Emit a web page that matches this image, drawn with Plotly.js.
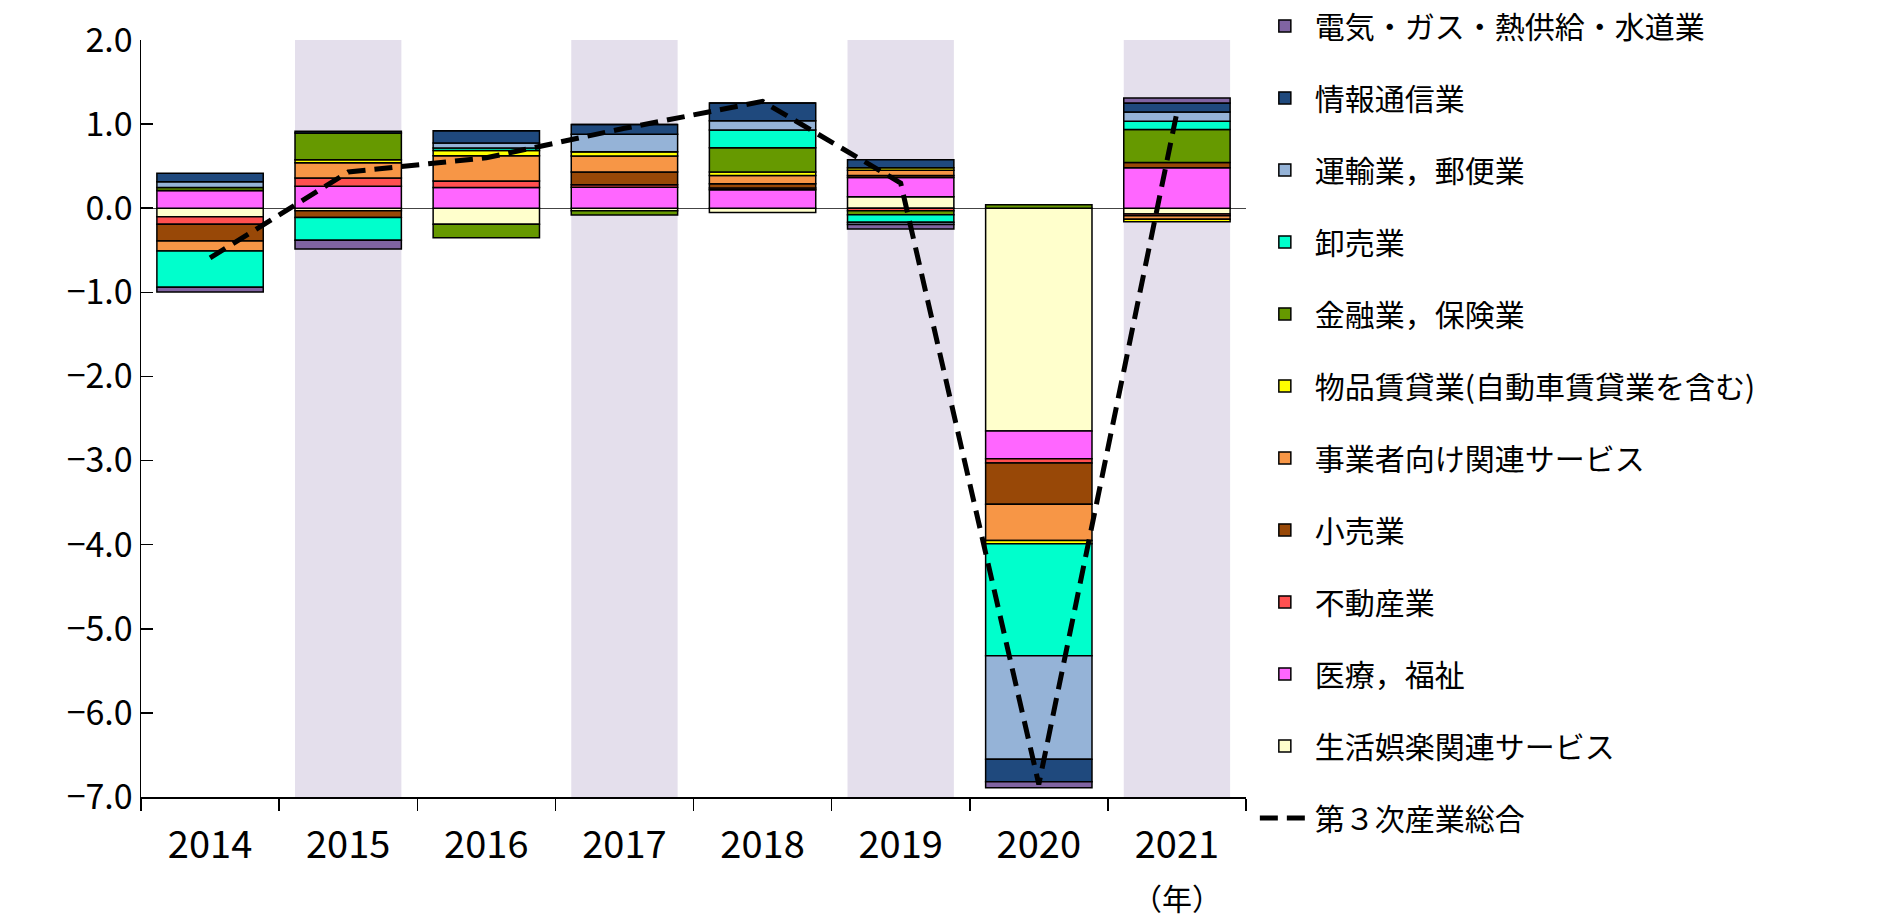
<!DOCTYPE html>
<html>
<head>
<meta charset="utf-8">
<script src="https://cdn.plot.ly/plotly-3.0.1.min.js"></script>
<style>html,body{margin:0;padding:0;background:#fff;}#chart{width:1892px;height:919px;}</style>
</head>
<body>
<div id="chart"></div>
<script>
// categories
const years = ['2014','2015','2016','2017','2018','2019','2020','2021'];
const shadedYears = ['2015','2017','2019','2021'];

// series (contribution, %pt), stacking order from zero outward
const seikatsu = [-0.10, -0.03, -0.19, -0.03, -0.05, 0.135, -2.65, -0.07];   // 生活娯楽関連サービス
const iryou    = [0.21, 0.26, 0.245, 0.25, 0.22, 0.23, -0.33, 0.48];          // 医療，福祉
const fudousan = [-0.09, 0.10, 0.08, 0.03, 0.02, -0.03, -0.05, -0.02];        // 不動産業
const kouri    = [-0.20, -0.08, 0.0, 0.15, 0.05, 0.024, -0.49, 0.065];        // 小売業
const jigyou   = [-0.12, 0.18, 0.30, 0.19, 0.10, 0.063, -0.43, -0.04];        // 事業者向け関連サービス
const buppin   = [0.0, 0.035, 0.06, 0.05, 0.04, 0.03, -0.04, -0.03];          // 物品賃貸業
const kinyu    = [0.035, 0.32, -0.16, -0.05, 0.29, -0.048, 0.04, 0.39];       // 金融業，保険業
const oroshi   = [-0.43, -0.27, 0.03, 0.0, 0.21, -0.09, -1.33, 0.10];         // 卸売業
const unyu     = [0.07, 0.0, 0.06, 0.21, 0.11, -0.025, -1.23, 0.11];          // 運輸業，郵便業
const jouhou   = [0.10, 0.02, 0.145, 0.115, 0.21, 0.095, -0.27, 0.105];       // 情報通信業
const denki    = [-0.055, -0.105, 0.0, 0.0, 0.0, -0.055, -0.07, 0.06];        // 電気・ガス・熱供給・水道業
const total    = [-0.59, 0.43, 0.60, 0.95, 1.27, 0.30, -6.85, 1.14];          // 第３次産業総合

const seriesNames = ['生活娯楽関連サービス','医療，福祉','不動産業','小売業','事業者向け関連サービス',
  '物品賃貸業(自動車賃貸業を含む)','金融業，保険業','卸売業','運輸業，郵便業','情報通信業','電気・ガス・熱供給・水道業'];
const seriesValues = [seikatsu, iryou, fudousan, kouri, jigyou, buppin, kinyu, oroshi, unyu, jouhou, denki];
const seriesColors = ['#FFFFCC','#FF66FF','#FF5050','#984807','#F79646','#FFFF00','#669900','#00FFCC','#95B3D7','#1F497D','#8064A2'];
const totalName = '第３次産業総合';

const FONT = '"Noto Sans CJK JP", "Noto Sans", sans-serif';

const data = [];
seriesNames.forEach((n, i) => {
  data.push({
    type: 'bar', name: n, x: years, y: seriesValues[i],
    marker: {color: seriesColors[i], line: {color: '#000', width: 1.5}},
    legendgroup: 'g' + i, legendrank: 100 - i
  });
});
data.push({
  type: 'scatter', mode: 'lines', name: totalName, x: years, y: total,
  line: {color: '#000', width: 5, dash: '18px,9px'}, legendgroup: 'g_total', legendrank: 200
});

const shapes = shadedYears.map(yr => {
  const idx = years.indexOf(yr);
  return {type: 'rect', xref: 'x', yref: 'y', x0: idx - 0.385, x1: idx + 0.385, y0: -7, y1: 2,
          fillcolor: '#E4DFEC', line: {width: 0}, layer: 'below'};
});

const layout = {
  width: 1892, height: 919,
  margin: {l: 141, r: 646, t: 40, b: 122, autoexpand: false},
  paper_bgcolor: '#fff', plot_bgcolor: 'rgba(0,0,0,0)',
  barmode: 'relative', bargap: 0.23,
  showlegend: true,
  font: {family: FONT, color: '#000'},
  xaxis: {
    type: 'category', categoryorder: 'array', categoryarray: years,
    range: [-0.5, years.length - 0.5], autorange: false,
    showline: true, linecolor: '#000', linewidth: 1.5,
    ticks: 'outside', tickson: 'boundaries', ticklen: 12, tickcolor: '#000', tickwidth: 1.5,
    tickangle: 0, ticklabelstandoff: 14,
    tickfont: {family: FONT, size: 38, color: '#000'}, showgrid: false, zeroline: false,
    fixedrange: true
  },
  yaxis: {
    range: [-7, 2], autorange: false, dtick: 1, tick0: 0, tickformat: '.1f',
    showline: true, linecolor: '#000', linewidth: 1.5,
    ticks: 'inside', ticklen: 12, tickcolor: '#000', tickwidth: 1.5,
    tickfont: {family: FONT, size: 34, color: '#000'}, showgrid: false,
    zeroline: true, zerolinecolor: '#444', zerolinewidth: 1.2, fixedrange: true
  },
  legend: {
    x: 1.008, xanchor: 'left', y: 1.053, yanchor: 'top',
    traceorder: 'grouped', tracegroupgap: 30, itemwidth: 50, maxheight: 919,
    font: {family: FONT, size: 30, color: '#000'}, bgcolor: 'rgba(0,0,0,0)'
  },
  shapes: shapes,
  annotations: [{
    xref: 'x', yref: 'paper', x: 7, y: 0, yshift: -100, text: '（年）', showarrow: false,
    font: {family: FONT, size: 30, color: '#000'}, xanchor: 'center', yanchor: 'middle'
  }]
};

Plotly.newPlot('chart', data, layout, {displayModeBar: false, staticPlot: true});
</script>
</body>
</html>
